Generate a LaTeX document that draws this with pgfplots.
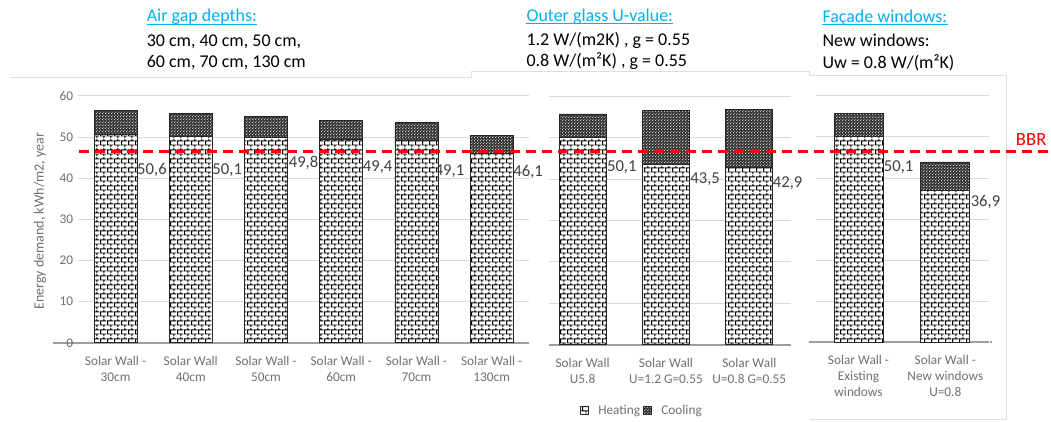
\documentclass[border=0pt]{standalone}
\usepackage{fontspec}
\setmainfont{Carlito}
\usepackage{pgfplots}
\pgfplotsset{compat=1.18}
\usetikzlibrary{patterns,patterns.meta}

\definecolor{hdblue}{RGB}{0,176,240}
\definecolor{gridgray}{RGB}{217,217,217}
\definecolor{txtgray}{RGB}{112,112,112}
\definecolor{lblgray}{RGB}{64,64,64}
\definecolor{framegray}{RGB}{222,222,222}

\pgfdeclarepattern{
  name=mybricks, type=uncolored,
  bottom left={\pgfpoint{0pt}{0pt}}, top right={\pgfpoint{5.4pt}{6.4pt}},
  tile size={\pgfpoint{5.4pt}{6.4pt}},
  code={
    \pgfsetlinewidth{0.7pt}
    \pgfpathmoveto{\pgfpoint{0pt}{1.6pt}}\pgfpathlineto{\pgfpoint{5.4pt}{1.6pt}}
    \pgfpathmoveto{\pgfpoint{0pt}{4.8pt}}\pgfpathlineto{\pgfpoint{5.4pt}{4.8pt}}
    \pgfpathmoveto{\pgfpoint{0.5pt}{1.6pt}}\pgfpathlineto{\pgfpoint{0.5pt}{4.8pt}}
    \pgfpathmoveto{\pgfpoint{3.2pt}{4.8pt}}\pgfpathlineto{\pgfpoint{3.2pt}{6.4pt}}
    \pgfpathmoveto{\pgfpoint{3.2pt}{0pt}}\pgfpathlineto{\pgfpoint{3.2pt}{1.6pt}}
    \pgfusepath{stroke}
  }
}
\pgfdeclarepattern{
  name=mydots, type=uncolored,
  bottom left={\pgfpoint{0pt}{0pt}}, top right={\pgfpoint{2pt}{2pt}},
  tile size={\pgfpoint{2pt}{2pt}},
  code={
    \pgfpathcircle{\pgfpoint{0.5pt}{0.5pt}}{0.38pt}
    \pgfpathcircle{\pgfpoint{1.5pt}{1.5pt}}{0.38pt}
    \pgfusepath{fill}
  }
}

\tikzset{
  dlab/.style={anchor=west, inner sep=0pt, text=lblgray, font=\fontsize{12.5}{14}\selectfont},
}
\pgfplotsset{
  mybase/.style={
    scale only axis, ybar stacked, ymin=0, ymax=60, ytick={0,10,...,60},
    ymajorgrids, major grid style={gridgray, line width=0.75pt},
    axis lines*=left, y axis line style={draw=none},
    x axis line style={draw=black!38, line width=1.5pt},
    tick style={draw=none}, xtick=data,
    ticklabel style={font=\fontsize{10}{12}\selectfont, text=txtgray},
    xticklabel style={align=center, yshift=-6.5pt},
    /pgf/number format/assume math mode=true,
    clip=false,
  },
  heat/.style={fill=white, draw=black!85, line width=0.6pt,
    postaction={pattern=mybricks, pattern color=black}},
  cool/.style={fill=black!78, draw=black!85, line width=0.6pt,
    postaction={pattern=mydots, pattern color=white}},
}

\begin{document}
\begin{tikzpicture}
\path (0pt,0pt) rectangle (788.25pt,-315.75pt);

% ---------- decorations, frames and text (pixel units) ----------
\begin{scope}[x=0.75pt,y=-0.75pt]
  \draw[framegray, line width=0.75pt] (10,77.5) -- (472,77.5) -- (472,72) -- (811,72) -- (811,75.5) -- (1008,75.5) -- (1008,420.5) -- (811,420.5);
  \draw[black!38, line width=1.5pt] (53,343.3) -- (79,343.3);
  \draw[black!38, line width=1.5pt] (810,342.7) -- (818,342.7);
  \draw[black!38, line width=1.5pt] (991,342.7) -- (993,342.7);
  \node[rotate=90, text=txtgray, font=\fontsize{10.5}{12}\selectfont] at (40,221.5) {Energy demand, kWh/m2, year};

  \node[anchor=base west, inner sep=0pt, text=hdblue, font=\fontsize{13.5}{16}\selectfont] (h1) at (146.7,21.7) {Air gap depths:};
  \draw[hdblue, line width=0.75pt] ([yshift=-1.8pt]h1.base west) -- ([yshift=-1.8pt]h1.base east);
  \node[anchor=base west, inner sep=0pt, font=\fontsize{13.5}{16}\selectfont] at (146.7,46.5) {30 cm, 40 cm, 50 cm,};
  \node[anchor=base west, inner sep=0pt, font=\fontsize{13.5}{16}\selectfont] at (146.7,67.7) {60 cm, 70 cm, 130 cm};

  \node[anchor=base west, inner sep=0pt, text=hdblue, font=\fontsize{13.5}{16}\selectfont] (h2) at (527,21.2) {Outer glass U-value:};
  \draw[hdblue, line width=0.75pt] ([yshift=-1.8pt]h2.base west) -- ([yshift=-1.8pt]h2.base east);
  \node[anchor=base west, inner sep=0pt, font=\fontsize{13.5}{16}\selectfont] at (527,45.5) {1.2 W/(m2K) , g = 0.55};
  \node[anchor=base west, inner sep=0pt, font=\fontsize{13.5}{16}\selectfont] at (527,66.8) {0.8 W/(m²K) , g = 0.55};

  \node[anchor=base west, inner sep=0pt, text=hdblue, font=\fontsize{13.5}{16}\selectfont] (h3) at (823.3,22.2) {Façade windows:};
  \draw[hdblue, line width=0.75pt] ([yshift=-1.8pt]h3.base west) -- ([yshift=-1.8pt]h3.base east);
  \node[anchor=base west, inner sep=0pt, font=\fontsize{13.5}{16}\selectfont] at (823.3,46.7) {New windows:};
  \node[anchor=base west, inner sep=0pt, font=\fontsize{13.5}{16}\selectfont] at (823.3,68.3) {Uw = 0.8 W/(m²K)};

  \node[anchor=west, inner sep=0pt, text=red, font=\fontsize{14}{16}\selectfont] at (1017,140) {BBR};
\end{scope}

% ---------- chart 1: air gap depths ----------
\begin{axis}[mybase, anchor=south west, at={(58.5pt,-257.475pt)},
  width=339pt, height=185.475pt, xmin=-0.5, xmax=5.5, bar width=32.25pt,
  xticklabels={{Solar Wall -\\30cm},{Solar Wall\\40cm},{Solar Wall -\\50cm},{Solar Wall -\\60cm},{Solar Wall -\\70cm},{Solar Wall -\\130cm}}]
\addplot[heat] coordinates {(0,50.6) (1,50.1) (2,49.8) (3,49.4) (4,49.1) (5,46.1)};
\addplot[cool] coordinates {(0,5.9) (1,5.6) (2,5.1) (3,4.7) (4,4.4) (5,4.3)};
\node[dlab] at (axis cs:0.285,42.0) {50,6};
\node[dlab] at (axis cs:1.285,42.0) {50,1};
\node[dlab] at (axis cs:2.3,43.7) {49,8};
\node[dlab] at (axis cs:3.285,42.8) {49,4};
\node[dlab] at (axis cs:4.24,41.6) {49,1};
\node[dlab] at (axis cs:5.285,41.6) {46,1};
\end{axis}

% ---------- chart 2: outer glass U-value ----------
\begin{axis}[mybase, anchor=south west, at={(412.5pt,-258.75pt)},
  width=181.5pt, height=186.225pt, xmin=-0.4, xmax=2.5, bar width=35.25pt,
  yticklabels={},
  xticklabels={{Solar Wall\\U5.8},{Solar Wall\\U=1.2 G=0.55},{Solar Wall\\U=0.8 G=0.55}},
  legend columns=2,
  legend style={at={(0.384,-0.266)}, anchor=center, draw=none, fill=none,
    font=\fontsize{10}{12}\selectfont, text=txtgray,
    /tikz/every odd column/.append style={column sep=5pt}},
  legend image code/.code={\draw[#1, line width=0.5pt] (0pt,-3.2pt) rectangle (6.4pt,3.2pt);}]
\addplot[heat] coordinates {(0,50.1) (1,43.5) (2,42.9)};
\addplot[cool] coordinates {(0,5.7) (1,13.1) (2,14.0)};
\legend{Heating,Cooling}
\node[dlab] at (axis cs:0.29,42.9) {50,1};
\node[dlab] at (axis cs:1.29,39.9) {43,5};
\node[dlab] at (axis cs:2.28,39.1) {42,9};
\end{axis}

% ---------- chart 3: facade windows ----------
\begin{axis}[mybase, anchor=south west, at={(612.75pt,-257.025pt)},
  width=129.75pt, height=185.025pt, xmin=-0.49, xmax=1.5, bar width=36.75pt,
  yticklabels={},
  xticklabels={{Solar Wall -\\Existing\\windows},{Solar Wall -\\New windows\\U=0.8}}]
\addplot[heat] coordinates {(0,50.1) (1,36.9)};
\addplot[cool] coordinates {(0,5.6) (1,7.0)};
\node[dlab] at (axis cs:0.29,42.6) {50,1};
\node[dlab] at (axis cs:1.29,34.1) {36,9};
\end{axis}

% ---------- BBR reference line (overlay, same scale as chart 3) ----------
\begin{axis}[scale only axis, anchor=south west, at={(612.75pt,-257.025pt)},
  width=129.75pt, height=185.025pt, xmin=-0.49, xmax=1.5, ymin=0, ymax=60,
  hide axis, clip=false]
\addplot[red, line width=2.25pt, dash pattern=on 7.5pt off 4.5pt, mark=none] coordinates {(-8.98,46.5) (2.2,46.5)};
\end{axis}
\end{tikzpicture}
\end{document}
